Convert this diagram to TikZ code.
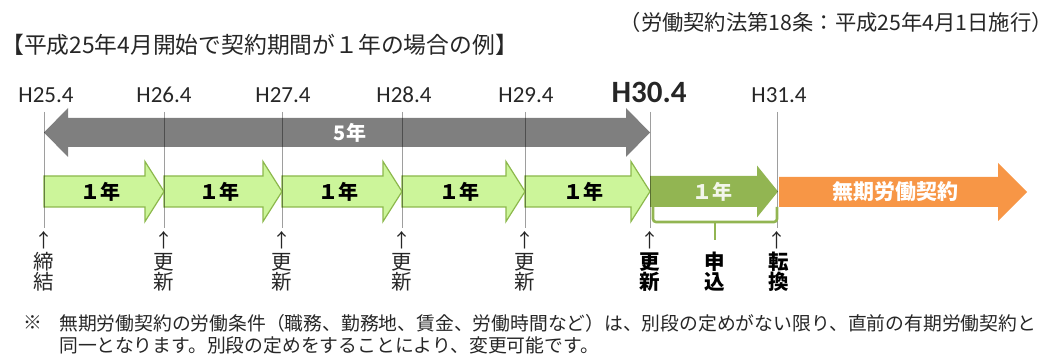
\documentclass[tikz,border=0pt]{standalone}
\usepackage{fontspec}
\setmainfont{Noto Sans CJK JP}
\newfontfamily\latinf{Carlito}
\usetikzlibrary{calc}
\definecolor{lgfill}{HTML}{CCF59A}
\definecolor{lgdraw}{HTML}{8CB84C}
\definecolor{dgfill}{HTML}{92B552}
\definecolor{orfill}{HTML}{F79646}
\definecolor{gyfill}{HTML}{7F7F7F}
\definecolor{txt}{HTML}{262626}
\newcommand\fs[1]{\fontsize{#1}{#1}\selectfont}
% right arrow: x1, x2(tip), yc, body half, head half, head length, style
\newcommand\rarrow[7]{%
  \path[#7] (#1,#3-#4) -- (#2-#6,#3-#4) -- (#2-#6,#3-#5) -- (#2,#3)
    -- (#2-#6,#3+#5) -- (#2-#6,#3+#4) -- (#1,#3+#4) -- cycle;}
\tikzset{
  lgarrow/.style={fill=lgfill, draw=lgdraw, line width=1.2pt, line join=miter},
  dgarrow/.style={fill=dgfill},
  orarrow/.style={fill=orfill},
  gyarrow/.style={fill=gyfill},
  vline/.style={draw=black, draw opacity=0.38, line width=0.9pt},
  hlabel/.style={font=\latinf\fs{23}, text=txt, inner sep=0pt},
  yearlbl/.style={font=\bfseries\fs{20}, inner sep=0pt},
  uparr/.style={font=\fs{19}, text=txt, inner sep=0pt},
  vlbl/.style={font=\fs{20.5}, text=txt, align=center, inner sep=0pt},
  vlblb/.style={font=\bfseries\fs{20.5}, text=black, align=center, inner sep=0pt},
  bracketln/.style={draw=dgfill, line width=2.6pt, rounded corners=3pt},
}
\begin{document}
\begin{tikzpicture}[x=1pt, y=-1pt]
\useasboundingbox (0,0) rectangle (1053,355);

% header texts
\node[anchor=west, inner sep=0pt, text=txt, font=\fs{22.8}] (title) at (1,45) {【平成25年4月開始で契約期間が１年の場合の例】};
\node[anchor=east, inner sep=0pt, text=txt, font=\fs{21.3}] (law) at (1053,22) {（労働契約法第18条：平成25年4月1日施行）};

% gray 5-year double arrow
\path[gyarrow] (44,132.5) -- (68,108) -- (68,118) -- (626,118) -- (626,108) -- (650,132.5)
  -- (626,157) -- (626,147) -- (68,147) -- (68,157) -- cycle;
\node[font=\bfseries\fs{20}, text=white, inner sep=0pt] (five) at (350,132.5) {5年};

% light green one-year arrows
\rarrow{44}{164}{191.5}{15.5}{30}{19}{lgarrow}
\rarrow{164}{282}{191.5}{15.5}{30}{19}{lgarrow}
\rarrow{282}{402}{191.5}{15.5}{30}{19}{lgarrow}
\rarrow{402}{525}{191.5}{15.5}{30}{19}{lgarrow}
\rarrow{525}{650}{191.5}{15.5}{30}{19}{lgarrow}
\node[yearlbl] (y1) at (100,191.5) {１年};
\node[yearlbl] (y2) at (219,191.5) {１年};
\node[yearlbl] (y3) at (338,191.5) {１年};
\node[yearlbl] (y4) at (459,191.5) {１年};
\node[yearlbl] (y5) at (583,191.5) {１年};

% dark green arrow
\rarrow{650}{778}{191.5}{15.5}{26}{21}{dgarrow}
\node[yearlbl, text=white!88!dgfill] (y6) at (712,191.5) {１年};

% orange arrow
\rarrow{779}{1027}{192}{15}{29}{29}{orarrow}
\node[font=\bfseries\fs{21}, text=white, inner sep=0pt] (muki) at (895,192) {無期労働契約};

% vertical lines
\foreach \n/\x in {a/44,b/164,c/282,d/402,e/525,f/650,g/777}{
  \coordinate (\n top) at (\x,112);
  \coordinate (\n bot) at (\x,228);
  \draw[vline] (\n top) -- (\n bot);
}

% top labels
\node[hlabel] (h25) at (46,95) {H25.4};
\node[hlabel] (h26) at (164,95) {H26.4};
\node[hlabel] (h27) at (283,95) {H27.4};
\node[hlabel] (h28) at (404,95) {H28.4};
\node[hlabel] (h29) at (526,95) {H29.4};
\node[font=\latinf\bfseries\fs{31}, text=txt, inner sep=0pt] (h30) at (649,92) {H30.4};
\node[hlabel] (h31) at (779,95) {H31.4};

% bracket
\coordinate (brl) at (653,207);
\coordinate (brr) at (777,207);
\coordinate (brm) at (715,222);
\coordinate (brs) at (715,240);
\draw[bracketln] (brl) -- (653,222) -- (777,222) -- (brr);
\draw[bracketln, rounded corners=0pt] (brm) -- (brs);

% bottom labels
\foreach \n/\x in {a/44,b/164,c/282,d/402,e/525,f/650,g/777}{
  \node[uparr] (\n up) at (\x,240) {↑};
}
\node[vlbl] (la) at (44,272) {締\\[-0.5pt]結};
\node[vlbl] (lb) at (164,272) {更\\[-0.5pt]新};
\node[vlbl] (lc) at (282,272) {更\\[-0.5pt]新};
\node[vlbl] (ld) at (402,272) {更\\[-0.5pt]新};
\node[vlbl] (le) at (525,272) {更\\[-0.5pt]新};
\node[vlblb] (lf) at (650,272) {更\\[-0.5pt]新};
\node[vlblb] (lm) at (715,272) {申\\[-0.5pt]込};
\node[vlblb] (lg) at (779,272) {転\\[-0.5pt]換};

% note
\node[inner sep=0pt, text=txt, font=\fs{18.8}] (kome) at (33,323) {※};
\node[anchor=west, inner sep=0pt, text=txt, font=\fs{18.8}] (note1) at (59,323) {無期労働契約の労働条件（職務、勤務地、賃金、労働時間など）は、別段の定めがない限り、直前の有期労働契約と};
\node[anchor=west, inner sep=0pt, text=txt, font=\fs{18.8}] (note2) at (59,345) {同一となります。別段の定めをすることにより、変更可能です。};
\end{tikzpicture}
\end{document}
